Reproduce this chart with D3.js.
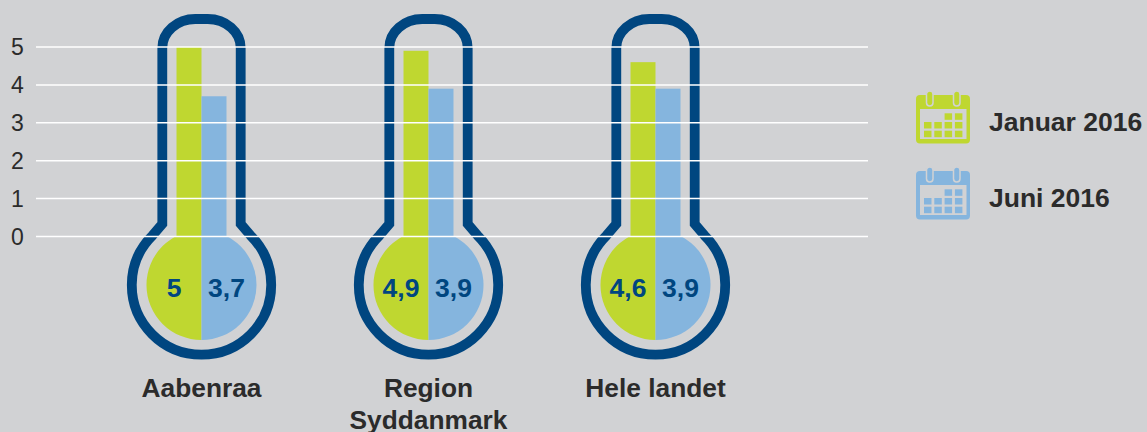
<!DOCTYPE html>
<html><head><meta charset="utf-8">
<script src="https://cdn.jsdelivr.net/npm/d3@7/dist/d3.min.js"></script>
<style>html,body{margin:0;padding:0;background:#d1d2d4}svg{display:block}text{font-family:"Liberation Sans",Arial,sans-serif}</style>
</head><body><svg id="c" width="1147" height="432"></svg>
<script>
const categories = ["Aabenraa", "Region Syddanmark", "Hele landet"];
const januar = [5, 4.9, 4.6];
const juni = [3.7, 3.9, 3.9];
const seriesNames = ["Januar 2016", "Juni 2016"];
const yTicks = [0, 1, 2, 3, 4, 5];
const navy = "#004680", green = "#bfd730", blue = "#85b5de", bg = "#d1d2d4";
const fmt = v => String(v).replace(".", ",");

const svg = d3.select("#c");
const x = d3.scalePoint().domain(categories).range([201.5, 655.5]);
const y = d3.scaleLinear().domain([0, 5]).range([236.5, 47]);
const barW = 25, R = 55, cy = 285;

const g = svg.selectAll("g.t").data(categories).join("g").attr("class", "t")
  .attr("transform", d => `translate(${x(d)},0)`);

// thermometer outline
const hw = 39.2, tubeTop = 19, rcx = 33, rcy = 29, Rb = 69.7, neckY = 224;
const bx = 49, by = cy - Math.sqrt(Rb * Rb - bx * bx);
const outline = `M${-hw},${neckY} L${-hw},${tubeTop + rcy} A${rcx},${rcy} 0 0 1 ${-hw + rcx},${tubeTop} L${hw - rcx},${tubeTop} A${rcx},${rcy} 0 0 1 ${hw},${tubeTop + rcy} L${hw},${neckY} L${bx},${by} A${Rb},${Rb} 0 1 1 ${-bx},${by} Z`;
g.append("path").attr("d", outline).attr("fill", "none").attr("stroke", navy).attr("stroke-width", 9.8).attr("stroke-linejoin", "miter");

// bulb halves
const arc = d3.arc().innerRadius(0).outerRadius(R);
g.append("path").attr("transform", `translate(0,${cy})`).attr("fill", green).attr("d", arc({startAngle: -Math.PI, endAngle: 0}));
g.append("path").attr("transform", `translate(0,${cy})`).attr("fill", blue).attr("d", arc({startAngle: 0, endAngle: Math.PI}));

// bars
g.append("rect").attr("x", -barW).attr("width", barW).attr("fill", green)
  .attr("y", (d, i) => y(januar[i])).attr("height", (d, i) => y(0) - y(januar[i]));
g.append("rect").attr("x", 0).attr("width", barW).attr("fill", blue)
  .attr("y", (d, i) => y(juni[i])).attr("height", (d, i) => y(0) - y(juni[i]));

// bulb values
g.append("text").attr("x", -27.5).attr("y", 296.5).attr("text-anchor", "middle").attr("fill", navy)
  .attr("font-size", 26.5).attr("font-weight", 700).text((d, i) => fmt(januar[i]));
g.append("text").attr("x", 25).attr("y", 296.5).attr("text-anchor", "middle").attr("fill", navy)
  .attr("font-size", 26.5).attr("font-weight", 700).text((d, i) => fmt(juni[i]));

// grid
svg.selectAll("line.grid").data(yTicks).join("line").attr("class", "grid")
  .attr("x1", 36).attr("x2", 868).attr("y1", d => y(d)).attr("y2", d => y(d))
  .attr("stroke", "#fff").attr("stroke-width", 1.5);
svg.selectAll("text.yt").data(yTicks).join("text").attr("class", "yt")
  .attr("x", 11).attr("y", d => y(d) + 8).attr("font-size", 23).attr("fill", "#2b2b2b").text(d => d);

// category labels
const lines = [["Aabenraa"], ["Region", "Syddanmark"], ["Hele landet"]];
g.each(function (d, i) {
  lines[i].forEach((t, k) => d3.select(this).append("text").attr("y", 397 + k * 31.5)
    .attr("text-anchor", "middle").attr("font-size", 26.3).attr("font-weight", 700).attr("fill", "#2b2b2b").text(t));
});

// legend
const colorOf = (d, i) => [green, blue][i];
const leg = svg.selectAll("g.l").data(seriesNames).join("g").attr("class", "l")
  .attr("transform", (d, i) => `translate(916,${95 + i * 76})`);
leg.append("rect").attr("width", 54).attr("height", 48.5).attr("rx", 4).attr("fill", colorOf);
leg.append("rect").attr("x", 4).attr("y", 14).attr("width", 46.5).attr("height", 30).attr("fill", bg);
[10.5, 37.5].forEach(px => leg.append("rect").attr("x", px).attr("y", -4).attr("width", 6.5).attr("height", 15).attr("rx", 3.2)
  .attr("fill", colorOf).attr("stroke", bg).attr("stroke-width", 1.5));
const cal = [[2,0],[3,0],[0,1],[1,1],[2,1],[3,1],[0,2],[1,2],[2,2],[3,2]];
cal.forEach(([c, r]) => leg.append("rect").attr("x", 8 + c * 10.3).attr("y", 18.3 + r * 8.7).attr("width", 7.5).attr("height", 6.5)
  .attr("fill", colorOf));
leg.append("text").attr("x", 73).attr("y", 36).attr("font-size", 26.5).attr("font-weight", 700).attr("fill", "#2b2b2b").text(d => d);
</script></body></html>
